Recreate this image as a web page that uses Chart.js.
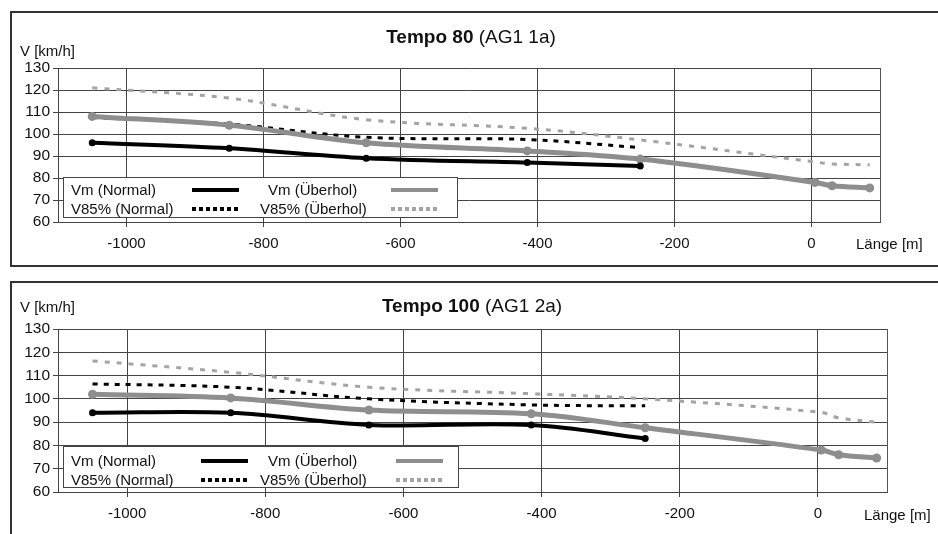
<!DOCTYPE html>
<html>
<head>
<meta charset="utf-8">
<script src="https://cdn.jsdelivr.net/npm/chart.js@4/dist/chart.umd.min.js"></script>
<style>
  body { margin: 0; background: #fff; font-family: "Liberation Sans", Arial, sans-serif; color: #111; }
  #page { position: relative; width: 938px; height: 534px; overflow: hidden; }
  canvas { position: absolute; left: 0; }
  .frame { position: absolute; left: 10px; width: 940px; border: 2px solid #333; box-sizing: border-box; }
  .txt { position: absolute; white-space: nowrap; }
  .title { font-size: 19px; line-height: 22px; width: 938px; text-align: center; }
  .lab { font-size: 15px; line-height: 18px; }
  .legend { position: absolute; background: #fff; border: 1px solid #444; box-sizing: border-box; }
  .sample { position: absolute; height: 4px; }
</style>
</head>
<body>
<div id="page">
  <canvas id="c80" width="938" height="270" style="top:0"></canvas>
  <canvas id="c100" width="938" height="264" style="top:270px"></canvas>
  <div class="frame" style="top:11px;height:256px"></div>
  <div class="frame" style="top:281px;height:300px"></div>

  <div class="txt title" style="left:2px;top:26px"><b>Tempo 80</b> (AG1 1a)</div>
  <div class="txt lab" style="left:20px;top:42px">V [km/h]</div>
  <div class="txt lab" style="left:856px;top:235px">Länge [m]</div>

  <div class="txt title" style="left:3px;top:295px"><b>Tempo 100</b> (AG1 2a)</div>
  <div class="txt lab" style="left:20px;top:298px">V [km/h]</div>
  <div class="txt lab" style="left:864px;top:506px">Länge [m]</div>
</div>
<script>
// Messpunkte (Länge in m)
const xPos = [-1050, -850, -650, -415, -250, 5, 30, 85];
const xTicks = [-1000, -800, -600, -400, -200, 0];
const seriesNames = ['Vm (Normal)', 'Vm (Überhol)', 'V85% (Normal)', 'V85% (Überhol)'];

// Tempo 80
const vmNormal80 = [96, 93.5, 89, 87, 85.5];
const vmUeber80 = [108, 104, 96, 92.3, 88.6, 78, 76.5, 75.5];
const v85Normal80 = [107.5, 104.5, 98.5, 97.5, 93.8];
const v85Ueber80 = [121, 116.3, 106.5, 102.6, 97.3, 87.3, 86.4, 86];

// Tempo 100
const vmNormal100 = [94, 94, 88.8, 88.8, 83];
const vmUeber100 = [102, 100.4, 95.2, 93.6, 87.6, 78, 76, 74.6];
const v85Normal100 = [106.4, 105, 100, 97.4, 97];
const v85Ueber100 = [116.3, 111.4, 105, 102.2, 100, 94.2, 91.8, 90];

const GREY = '#8e8e8e';
const LIGHTGREY = '#a4a4a4';

function pts(vals) {
  return vals.map((v, i) => ({ x: xPos[i], y: v }));
}

// Plotfläche rechts umrahmen
const plotBorder = {
  id: 'plotBorder',
  beforeDatasetsDraw(chart) {
    const { ctx, chartArea: a } = chart;
    ctx.save();
    ctx.strokeStyle = '#555';
    ctx.lineWidth = 1;
    ctx.beginPath();
    ctx.moveTo(Math.round(a.right) + 0.5, a.top);
    ctx.lineTo(Math.round(a.right) + 0.5, a.bottom);
    ctx.stroke();
    ctx.restore();
  }
};

function makeChart(id, vmN, vmU, v85N, v85U, pad) {
  const ctx = document.getElementById(id).getContext('2d');
  return new Chart(ctx, {
    type: 'line',
    data: {
      datasets: [
        { label: seriesNames[0], data: pts(vmN), borderColor: '#000', backgroundColor: '#000',
          borderWidth: 4, pointRadius: 3.5, pointBorderWidth: 0, order: 1 },
        { label: seriesNames[1], data: pts(vmU), borderColor: GREY, backgroundColor: GREY,
          borderWidth: 5, pointRadius: 4.5, pointBorderWidth: 0, order: 2 },
        { label: seriesNames[2], data: pts(v85N), borderColor: '#000', borderWidth: 3,
          borderDash: [5, 6], pointRadius: 0, order: 3 },
        { label: seriesNames[3], data: pts(v85U), borderColor: LIGHTGREY, borderWidth: 3,
          borderDash: [5, 7], pointRadius: 0, order: 4 }
      ]
    },
    options: {
      responsive: false,
      animation: false,
      devicePixelRatio: 1,
      elements: { line: { tension: 0.35 } },
      layout: { padding: pad },
      plugins: { legend: { display: false }, title: { display: false }, tooltip: { enabled: false } },
      scales: {
        x: {
          type: 'linear', min: -1100, max: 100,
          afterBuildTicks: s => { s.ticks = xTicks.map(v => ({ value: v })); },
          afterFit: s => { s.height = 30; },
          ticks: { callback: v => String(v), color: '#111', padding: 8, autoSkip: false, maxRotation: 0,
                   font: { family: '"Liberation Sans", Arial', size: 15 } },
          grid: { color: '#444', lineWidth: 1, tickLength: 5 },
          border: { color: '#444', width: 1 }
        },
        y: {
          min: 60, max: 130,
          afterFit: s => { s.width = 48; },
          ticks: { stepSize: 10, color: '#111', padding: 3, autoSkip: false,
                   font: { family: '"Liberation Sans", Arial', size: 15.5 } },
          grid: { color: '#444', lineWidth: 1, tickLength: 5 },
          border: { color: '#444', width: 1 }
        }
      }
    },
    plugins: [plotBorder]
  });
}

makeChart('c80', vmNormal80, vmUeber80, v85Normal80, v85Ueber80,
  { left: 10, top: 68, right: 58, bottom: 18 });
makeChart('c100', vmNormal100, vmUeber100, v85Normal100, v85Ueber100,
  { left: 10, top: 59, right: 51, bottom: 12 });

// Legenden (HTML, innerhalb der Plotfläche)
const sampleStyles = [
  'background:#000',
  'background:' + GREY,
  'background:repeating-linear-gradient(90deg,#000 0 4px,transparent 4px 7px)',
  'background:repeating-linear-gradient(90deg,' + LIGHTGREY + ' 0 4px,transparent 4px 7px)'
];

function makeLegend(box, rows, textX, sampleX) {
  const page = document.getElementById('page');
  const lg = document.createElement('div');
  lg.className = 'legend';
  lg.style.cssText = `left:${box[0]}px;top:${box[1]}px;width:${box[2]}px;height:${box[3]}px`;
  page.appendChild(lg);
  seriesNames.forEach((name, i) => {
    // Zeile 1: Vm, Zeile 2: V85%
    const col = i % 2;
    const row = i < 2 ? 0 : 1;
    const t = document.createElement('div');
    t.className = 'txt lab';
    t.textContent = name;
    t.style.left = textX[i] + 'px';
    t.style.top = (rows[row] - 9) + 'px';
    page.appendChild(t);
    const s = document.createElement('div');
    s.className = 'sample';
    s.style.cssText += sampleStyles[i];
    s.style.left = sampleX[col] + 'px';
    s.style.width = '47px';
    s.style.top = (rows[row] - 2) + 'px';
    page.appendChild(s);
  });
}

makeLegend([63, 177, 395, 41], [190, 209], [71, 268, 71, 260], [192, 391]);
makeLegend([63, 446, 396, 42], [461, 480], [71, 268, 71, 260], [201, 396]);
</script>
</body>
</html>
